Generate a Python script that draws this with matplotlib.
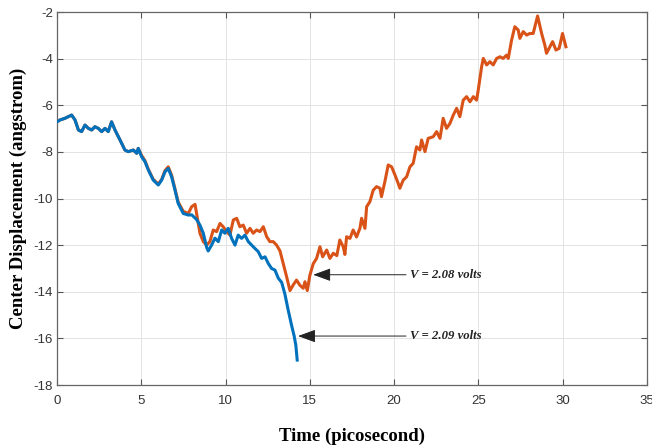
import matplotlib
matplotlib.use("Agg")
from matplotlib import pyplot as plt

plt.rcParams.update({
    "font.family": "Liberation Sans",
    "font.size": 9.5,
    "axes.unicode_minus": False,
})

# time (ps) and centre displacement (angstrom)
t_209 = [0, 0.18, 0.47, 0.87, 1.07, 1.27, 1.46, 1.66, 1.86, 2.06, 2.25, 2.45, 2.65, 2.85,
         3.04, 3.24, 3.44, 3.74, 4.03, 4.23, 4.53, 4.73, 4.82, 5.02, 5.22, 5.42, 5.71, 6.01,
         6.21, 6.41, 6.60, 6.80, 7.00, 7.19, 7.49, 7.79, 7.99, 8.28, 8.48, 8.68, 8.88, 8.97,
         9.17, 9.37, 9.57, 9.77, 9.96, 10.16, 10.36, 10.56, 10.75, 10.95, 11.15, 11.35, 11.55,
         11.74, 11.94, 12.14, 12.34, 12.53, 12.73, 12.93, 13.13, 13.33, 13.52, 13.72, 13.92,
         14.07, 14.17, 14.25]
d_209 = [-6.71, -6.63, -6.56, -6.42, -6.63, -7.06, -7.13, -6.85, -6.99, -7.06, -6.92, -6.99,
         -7.13, -6.99, -7.13, -6.71, -7.06, -7.49, -7.92, -7.99, -7.92, -8.06, -7.85, -8.21,
         -8.42, -8.78, -9.21, -9.42, -9.21, -8.85, -8.71, -9.07, -9.64, -10.21, -10.64, -10.71,
         -10.70, -10.90, -11.14, -11.49, -12.10, -12.25, -12.00, -11.70, -11.85, -11.35, -11.49,
         -11.28, -11.71, -12.00, -11.57, -11.71, -11.57, -11.85, -12.00, -12.14, -12.28, -12.57,
         -12.50, -12.78, -13.00, -13.07, -13.42, -13.60, -14.10, -14.80, -15.45, -15.90, -16.30,
         -16.93]

t_208 = [0, 0.18, 0.47, 0.87, 1.07, 1.27, 1.46, 1.66, 1.86, 2.06, 2.25, 2.45, 2.65, 2.85,
         3.04, 3.24, 3.44, 3.74, 4.03, 4.23, 4.53, 4.73, 4.82, 5.02, 5.22, 5.42, 5.71, 6.01,
         6.21, 6.41, 6.60, 6.80, 7.00, 7.19, 7.49, 7.79, 7.99, 8.19, 8.28, 8.48, 8.68, 8.88,
         9.07, 9.27, 9.47, 9.67, 9.86, 10.06, 10.26, 10.46, 10.66, 10.85, 11.05, 11.25, 11.45,
         11.64, 11.84, 12.04, 12.24, 12.44, 12.63, 12.83, 13.03, 13.23, 13.42, 13.62, 13.82,
         14.02, 14.21, 14.41, 14.61, 14.71, 14.85, 15.00, 15.20, 15.40, 15.60, 15.76, 16.00,
         16.19, 16.39, 16.60, 16.78, 16.98, 17.08, 17.18, 17.38, 17.57, 17.77, 17.97, 18.07,
         18.27, 18.37, 18.56, 18.76, 18.96, 19.16, 19.25, 19.45, 19.65, 19.85, 20.05, 20.24,
         20.34, 20.54, 20.74, 20.94, 21.13, 21.33, 21.53, 21.63, 21.83, 22.02, 22.32, 22.52,
         22.72, 22.91, 23.11, 23.31, 23.51, 23.71, 23.90, 24.10, 24.30, 24.50, 24.70, 24.89,
         24.99, 25.19, 25.29, 25.49, 25.68, 25.88, 26.08, 26.28, 26.47, 26.67, 26.77, 26.97,
         27.16, 27.36, 27.46, 27.66, 27.86, 28.05, 28.25, 28.51, 28.75, 28.94, 29.04, 29.24,
         29.40, 29.60, 29.79, 29.99, 30.19]
d_208 = [-6.71, -6.63, -6.56, -6.42, -6.63, -7.06, -7.13, -6.85, -6.99, -7.06, -6.92, -6.99,
         -7.13, -6.99, -7.13, -6.71, -7.06, -7.49, -7.92, -7.99, -7.92, -8.06, -7.85, -8.15,
         -8.38, -8.75, -9.18, -9.38, -9.18, -8.80, -8.64, -9.00, -9.60, -10.15, -10.55, -10.64,
         -10.35, -10.25, -10.64, -11.49, -11.85, -12.00, -11.85, -11.35, -11.42, -11.07, -11.21,
         -11.42, -11.57, -10.92, -10.85, -11.21, -11.14, -11.49, -11.28, -11.49, -11.35, -11.42,
         -11.21, -11.64, -11.85, -11.85, -12.00, -12.25, -12.78, -13.35, -13.95, -13.70, -13.50,
         -13.72, -13.85, -13.57, -13.95, -13.30, -12.80, -12.57, -12.07, -12.50, -12.21, -12.57,
         -12.35, -12.45, -11.78, -12.07, -12.40, -11.64, -11.71, -11.35, -11.65, -11.28, -10.85,
         -11.28, -10.35, -10.14, -9.64, -9.49, -9.56, -9.92, -9.28, -8.56, -8.64, -8.99, -9.35,
         -9.56, -9.21, -9.07, -8.64, -8.49, -7.78, -7.92, -7.49, -7.99, -7.42, -7.35, -7.13,
         -7.42, -6.56, -6.99, -6.78, -6.42, -6.13, -6.49, -5.78, -5.63, -5.85, -5.63, -5.78,
         -5.35, -4.35, -3.99, -4.27, -4.13, -4.27, -3.99, -3.92, -3.99, -3.85, -3.99, -3.20,
         -2.63, -2.77, -3.13, -2.84, -2.99, -2.92, -2.92, -2.17, -2.92, -3.42, -3.77, -3.49,
         -3.27, -3.63, -3.56, -2.92, -3.49]

fig = plt.figure(figsize=(6.52, 4.47), dpi=100)
ax = fig.add_axes([0.0874, 0.1387, 0.9049, 0.8344])

ax.plot(t_208, d_208, color="#D95319", lw=2.2, zorder=3)
ax.plot(t_209, d_209, color="#0072BD", lw=2.2, zorder=4)

ax.set_xlim(0, 35)
ax.set_ylim(-18, -2)
ax.set_xticks(range(0, 36, 5))
ax.set_yticks(range(-18, -1, 2))
ax.grid(True, color="#e3e3e3", lw=0.7)
ax.set_axisbelow(True)
ax.tick_params(direction="in", top=True, right=True, length=4, width=0.8,
               colors="#555555", labelcolor="#333333", labelsize=9.5)
ax.tick_params(axis="x", pad=7)
ax.tick_params(axis="y", pad=3)
for s in ax.spines.values():
    s.set_color("#666666")
    s.set_linewidth(0.9)

ax.set_xlabel("Time (picosecond)", family="Liberation Serif", weight="bold", fontsize=13.5)
ax.set_ylabel("Center Displacement (angstrom)", family="Liberation Serif", weight="bold",
              fontsize=13.5)
ax.xaxis.set_label_coords(0.5, -0.115)
ax.yaxis.set_label_coords(-0.05, 0.5)

arrow = dict(arrowstyle="-|>,head_length=0.6,head_width=0.22", color="#222222", lw=0.7,
             mutation_scale=18, shrinkA=1, shrinkB=0)
ax.annotate("V = 2.08 volts", xy=(15.2, -13.27), xytext=(20.95, -13.27),
            ha="left", va="center", family="Liberation Serif", weight="bold",
            style="italic", fontsize=9.2, color="#222222", arrowprops=arrow)
ax.annotate("V = 2.09 volts", xy=(14.3, -15.9), xytext=(20.95, -15.9),
            ha="left", va="center", family="Liberation Serif", weight="bold",
            style="italic", fontsize=9.2, color="#222222", arrowprops=arrow)

fig.savefig("out.png", dpi=100)
